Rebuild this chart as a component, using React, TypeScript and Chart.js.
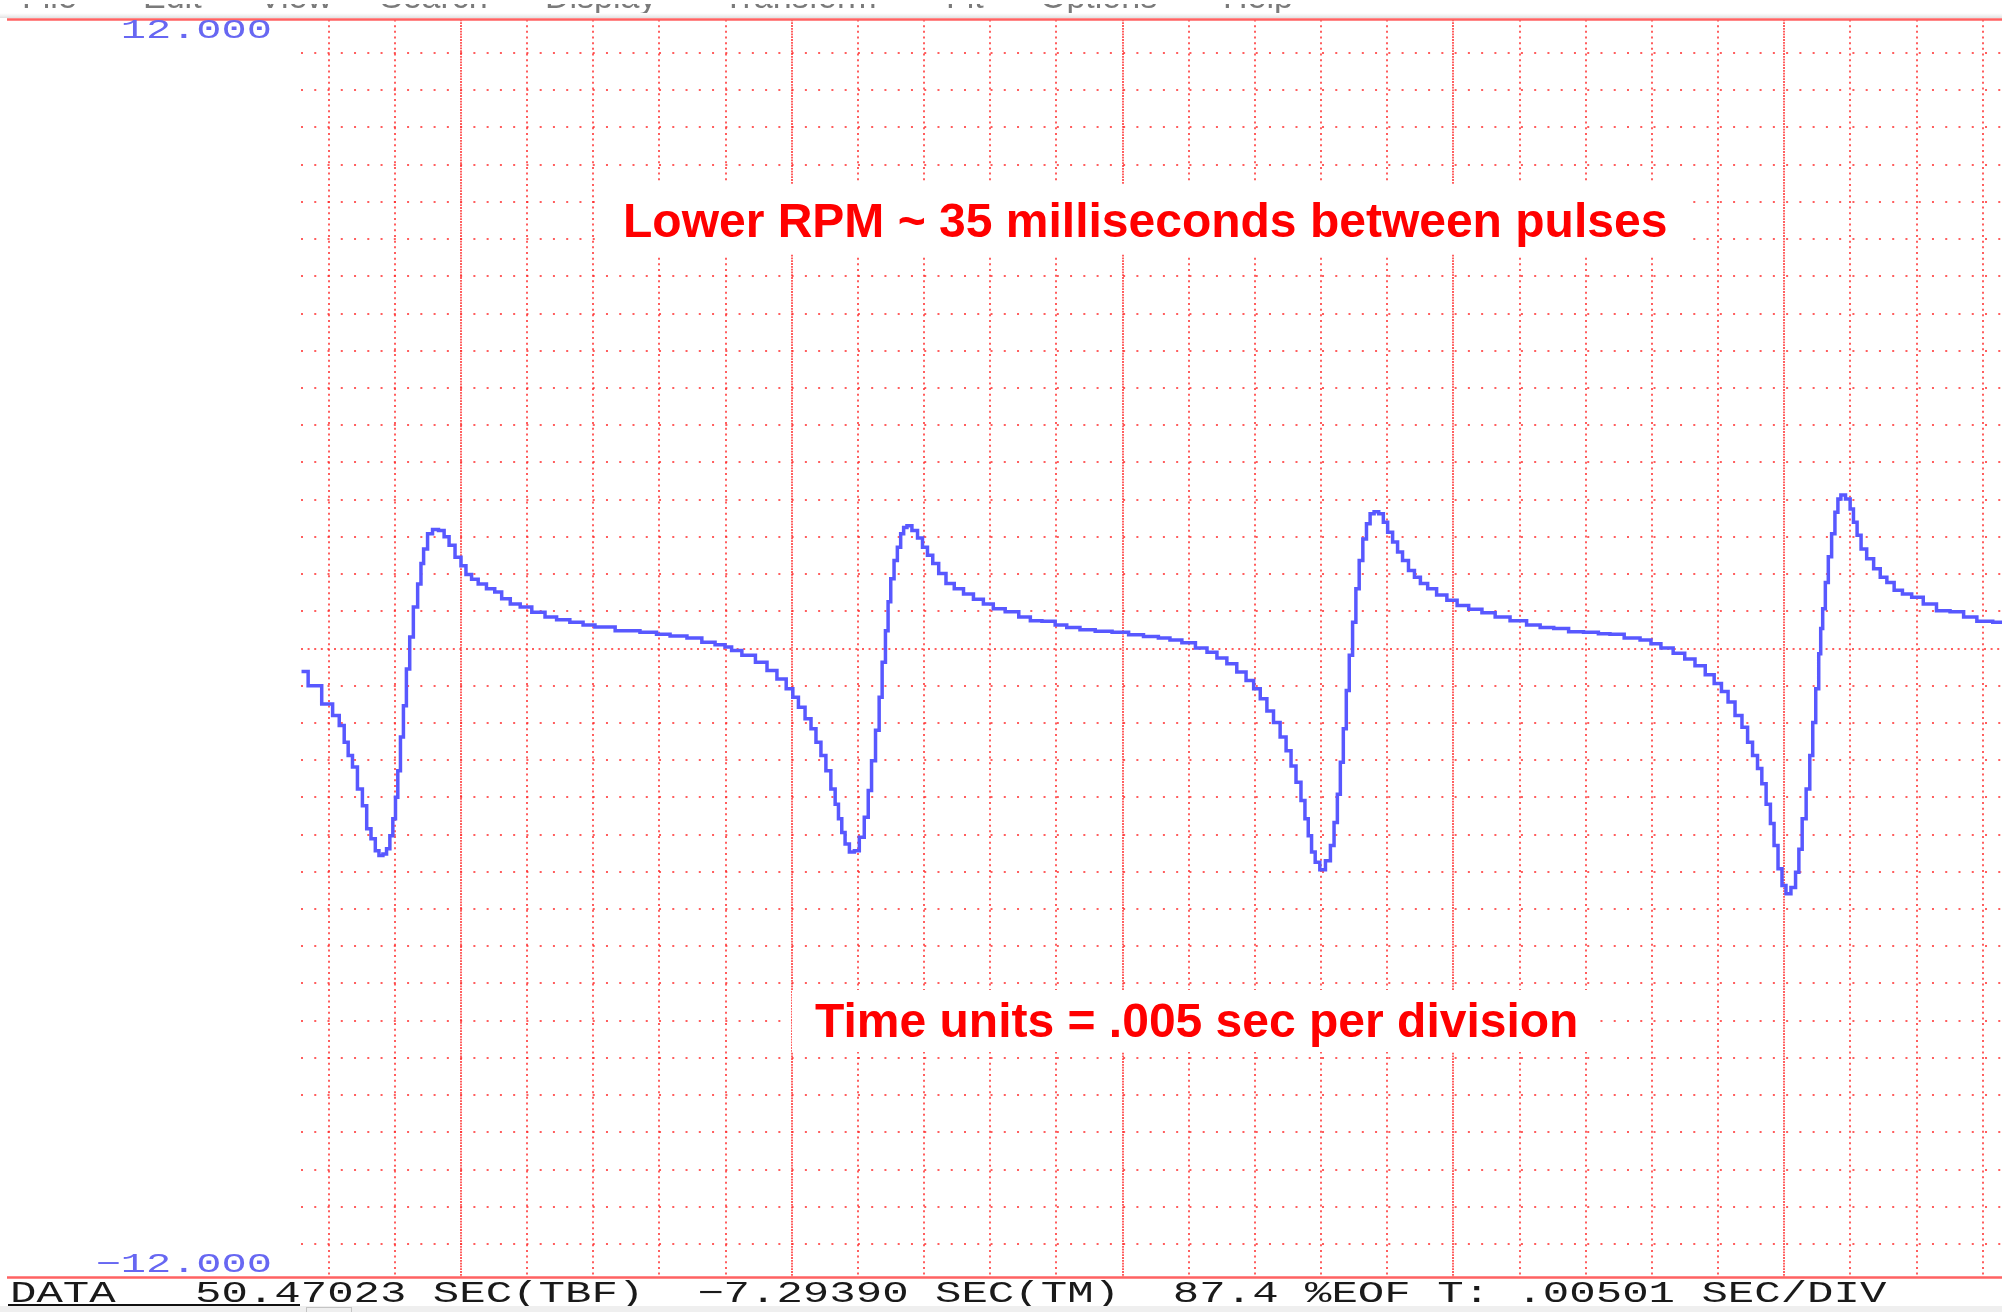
import React, { useEffect, useRef } from "react";
import { Chart, registerables } from "chart.js";

Chart.register(...registerables);

// ---------- data: time in milliseconds, signal in volts ----------
const PULSE1_MS = [2.59, 2.79, 3.0, 3.12, 3.2, 3.27, 3.32, 3.4, 3.47, 3.55, 3.6, 3.68, 3.73, 3.79, 3.85, 3.9, 3.95, 3.99, 4.03, 4.06, 4.11, 4.15, 4.2, 4.25, 4.31, 4.38, 4.41, 4.46, 4.53, 4.61, 4.71, 4.78, 4.86, 4.96, 5.04, 5.11, 5.21, 5.31, 5.46, 5.56, 5.67, 5.82, 5.97, 6.17, 6.37, 6.52, 6.77, 6.92, 7.13, 7.53, 7.88, 8.03, 8.29, 8.54, 8.74, 8.94, 9.04, 9.14];
const PULSE1_V = [-0.44, -0.71, -1.06, -1.28, -1.47, -1.79, -2.04, -2.26, -2.68, -3.0, -3.44, -3.63, -3.86, -3.95, -3.92, -3.82, -3.57, -3.25, -2.84, -2.33, -1.69, -1.09, -0.39, 0.22, 0.79, 1.23, 1.62, 1.9, 2.19, 2.27, 2.25, 2.13, 1.97, 1.74, 1.58, 1.41, 1.32, 1.23, 1.14, 1.08, 0.95, 0.85, 0.79, 0.69, 0.6, 0.55, 0.5, 0.45, 0.41, 0.34, 0.31, 0.27, 0.24, 0.2, 0.12, 0.07, 0.03, -0.04];

const PULSE2_MS = [9.35, 9.55, 9.7, 9.85, 9.98, 10.05, 10.15, 10.25, 10.33, 10.4, 10.48, 10.55, 10.63, 10.68, 10.73, 10.78, 10.83, 10.91, 10.98, 11.06, 11.13, 11.18, 11.23, 11.3, 11.34, 11.39, 11.44, 11.47, 11.52, 11.57, 11.62, 11.67, 11.71, 11.77, 11.86, 11.94, 12.01, 12.09, 12.17, 12.27, 12.39, 12.52, 12.67, 12.82, 12.97, 13.12, 13.33, 13.53, 13.68, 13.88, 14.08, 14.23, 14.48, 14.69, 14.99, 15.19, 15.44, 15.64, 15.79];
const PULSE2_V = [-0.13, -0.26, -0.42, -0.58, -0.77, -0.93, -1.12, -1.34, -1.53, -1.79, -2.04, -2.33, -2.68, -2.97, -3.25, -3.51, -3.73, -3.88, -3.86, -3.6, -3.22, -2.71, -2.14, -1.56, -0.93, -0.26, 0.34, 0.89, 1.33, 1.68, 1.93, 2.19, 2.31, 2.34, 2.25, 2.11, 1.93, 1.78, 1.62, 1.43, 1.24, 1.14, 1.04, 0.94, 0.85, 0.76, 0.7, 0.6, 0.53, 0.52, 0.45, 0.4, 0.36, 0.33, 0.31, 0.26, 0.23, 0.2, 0.16];

const PULSE3_MS = [16.0, 16.2, 16.35, 16.5, 16.65, 16.8, 16.93, 17.03, 17.13, 17.23, 17.33, 17.43, 17.51, 17.58, 17.66, 17.73, 17.78, 17.83, 17.88, 17.94, 18.02, 18.11, 18.17, 18.22, 18.27, 18.31, 18.36, 18.4, 18.45, 18.5, 18.55, 18.6, 18.66, 18.71, 18.77, 18.83, 18.91, 18.97, 19.04, 19.12, 19.19, 19.27, 19.37, 19.45, 19.55, 19.67, 19.82, 19.98, 20.13, 20.33, 20.53, 20.73, 20.98, 21.23, 21.39, 21.64, 21.84, 22.09, 22.29];
const PULSE3_V = [0.11, 0.01, -0.07, -0.18, -0.29, -0.45, -0.61, -0.77, -0.96, -1.19, -1.41, -1.69, -1.95, -2.24, -2.55, -2.9, -3.25, -3.57, -3.88, -4.08, -4.22, -4.05, -3.76, -3.32, -2.78, -2.17, -1.53, -0.8, -0.13, 0.5, 1.14, 1.68, 2.09, 2.38, 2.57, 2.61, 2.57, 2.41, 2.22, 2.03, 1.84, 1.68, 1.49, 1.36, 1.24, 1.14, 1.02, 0.92, 0.82, 0.75, 0.68, 0.6, 0.53, 0.45, 0.4, 0.38, 0.32, 0.31, 0.28];

const PULSE4_MS = [22.44, 22.72, 22.92, 23.05, 23.22, 23.42, 23.57, 23.73, 23.88, 24.0, 24.1, 24.2, 24.31, 24.41, 24.48, 24.56, 24.63, 24.69, 24.76, 24.82, 24.87, 24.94, 24.99, 25.06, 25.14, 25.2, 25.24, 25.3, 25.36, 25.41, 25.45, 25.5, 25.54, 25.56, 25.6, 25.64, 25.69, 25.74, 25.79, 25.83, 25.88, 25.97, 26.02, 26.07, 26.13, 26.19, 26.3, 26.4, 26.5, 26.6, 26.72, 26.85, 27.0, 27.2, 27.4, 27.61, 27.81, 28.01, 28.29];
const PULSE4_V = [0.27, 0.2, 0.16, 0.09, 0.01, -0.09, -0.2, -0.33, -0.5, -0.67, -0.82, -1.02, -1.28, -1.5, -1.79, -2.04, -2.29, -2.58, -2.97, -3.34, -3.76, -4.2, -4.52, -4.68, -4.56, -4.27, -3.83, -3.25, -2.68, -2.04, -1.41, -0.77, -0.1, 0.38, 0.76, 1.26, 1.75, 2.19, 2.6, 2.85, 2.93, 2.85, 2.66, 2.41, 2.16, 1.9, 1.71, 1.52, 1.36, 1.26, 1.11, 1.04, 0.98, 0.85, 0.72, 0.7, 0.6, 0.52, 0.5];

// ---------- axes ----------
const X_MIN_MS = 2.582;
const X_MAX_MS = 28.29;
const X_GRID_MS = [3, 4, 5, 6, 7, 8, 9, 10, 11, 12, 13, 14, 15, 16, 17, 18, 19, 20, 21, 22, 23, 24, 25, 26, 27, 28];
const X_MAJOR_EVERY_MS = 5;

const Y_MIN_V = -12;
const Y_MAX_V = 12;
const Y_GRID_STEP_V = 0.71;
const Y_GRID_INDEX = [-16, -15, -14, -13, -12, -11, -10, -9, -8, -7, -6, -5, -4, -3, -2, -1, 0, 1, 2, 3, 4, 5, 6, 7, 8, 9, 10, 11, 12, 13, 14, 15, 16];
const Y_EDGE_VALUES = [12, -12];
const Y_EDGE_LABELS = ["12.000", "\u221212.000"];

// ---------- texts ----------
const ANNOTATION_TEXTS = ["Lower RPM ~ 35 milliseconds between pulses", "Time units = .005 sec per division"];
const STATUS_TEXT = "DATA   50.47023 SEC(TBF)  \u22127.29390 SEC(TM)  87.4 %EOF T: .00501 SEC/DIV";
const MENU_WORDS = ["File", "Edit", "View", "Search", "Display", "Transform", "Fit", "Options", "Help"];

// ---------- layout (pixels) ----------
const W = 2002;
const H = 1312;
const PAD = { left: 301, top: 19.5, right: 0, bottom: 34.5 };
const ANNOTATION_POS = [
  { x: 623, y: 237, box: [596, 184, 1090, 70] },
  { x: 815, y: 1037, box: [792, 990, 806, 62] },
];
const MENU_X = [22, 143, 259, 380, 545, 723, 946, 1040, 1223];

const GRID_RED = "rgba(255, 40, 40, 0.75)";
const EDGE_RED = "#ff6262";
const TRACE_BLUE = "#5858ff";
const LABEL_BLUE = "#6767f2";

const buildPoints = () => {
  const ms = [...PULSE1_MS, ...PULSE2_MS, ...PULSE3_MS, ...PULSE4_MS];
  const v = [...PULSE1_V, ...PULSE2_V, ...PULSE3_V, ...PULSE4_V];
  return ms.map((t, i) => ({ x: t, y: v[i] }));
};

const decorPlugin = {
  id: "scopeDecor",
  beforeDatasetsDraw(chart: any) {
    const ctx: CanvasRenderingContext2D = chart.ctx;
    ctx.save();
    ANNOTATION_POS.forEach((p, i) => {
      const [bx, by, bw, bh] = p.box;
      ctx.fillStyle = "#ffffff";
      ctx.fillRect(bx, by, bw, bh);
      ctx.fillStyle = "#ff0000";
      ctx.font = 'bold 48px "Liberation Sans", Arial, sans-serif';
      ctx.textAlign = "left";
      ctx.textBaseline = "alphabetic";
      ctx.fillText(ANNOTATION_TEXTS[i], p.x, p.y);
    });
    ctx.restore();
  },
  afterDraw(chart: any) {
    const ctx: CanvasRenderingContext2D = chart.ctx;
    const yScale = chart.scales.y;
    const area = chart.chartArea;
    ctx.save();

    // menu bar remnants (cut off at the top)
    ctx.save();
    ctx.beginPath();
    ctx.rect(0, 4, W, 9);
    ctx.clip();
    ctx.fillStyle = "#7a7a7a";
    ctx.font = '34px "Liberation Sans", Arial, sans-serif';
    ctx.textBaseline = "alphabetic";
    MENU_WORDS.forEach((w, i) => ctx.fillText(w, MENU_X[i], 7.5));
    ctx.restore();
    const g = ctx.createLinearGradient(0, 13, 0, 19);
    g.addColorStop(0, "rgba(230,230,230,0)");
    g.addColorStop(1, "rgba(215,215,215,1)");
    ctx.fillStyle = g;
    ctx.fillRect(0, 13, W, 5);

    // red frame lines at +/-12
    ctx.strokeStyle = EDGE_RED;
    ctx.lineWidth = 2.5;
    Y_EDGE_VALUES.forEach((v) => {
      const py = yScale.getPixelForValue(v);
      ctx.beginPath();
      ctx.moveTo(7, py);
      ctx.lineTo(W, py);
      ctx.stroke();
    });

    // y range labels
    ctx.fillStyle = LABEL_BLUE;
    ctx.font = '27px "Liberation Mono", "DejaVu Sans Mono", monospace';
    ctx.textAlign = "right";
    ctx.textBaseline = "middle";
    Y_EDGE_VALUES.forEach((v, i) => {
      const py = yScale.getPixelForValue(v) + (v > 0 ? 11.5 : -12.5);
      ctx.save();
      ctx.translate(area.left - 29, py);
      ctx.scale(1.556, 1);
      ctx.fillText(Y_EDGE_LABELS[i], 0, 0);
      ctx.restore();
    });

    // status line
    ctx.fillStyle = "#1a1a1a";
    ctx.textAlign = "left";
    ctx.textBaseline = "alphabetic";
    ctx.font = '30px "Liberation Mono", "DejaVu Sans Mono", monospace';
    ctx.save();
    ctx.translate(10, 1302);
    ctx.scale(1.468, 1);
    ctx.fillText(STATUS_TEXT, 0, 0);
    ctx.restore();

    // bottom strip
    ctx.fillStyle = "#efefef";
    ctx.fillRect(0, 1306, W, 6);
    ctx.strokeStyle = "#111111";
    ctx.lineWidth = 2;
    ctx.beginPath();
    ctx.moveTo(8, 1305);
    ctx.lineTo(300, 1305);
    ctx.stroke();
    ctx.strokeStyle = "#c4c4c4";
    ctx.lineWidth = 1;
    ctx.strokeRect(306.5, 1307.5, 45, 6);

    ctx.restore();
  },
};

export default function App() {
  const ref = useRef<HTMLCanvasElement>(null);

  useEffect(() => {
    const canvas = ref.current;
    if (!canvas) return;
    const chart = new Chart(canvas, {
      type: "line",
      data: {
        datasets: [
          {
            data: buildPoints(),
            borderColor: TRACE_BLUE,
            borderWidth: 3.5,
            pointRadius: 0,
            tension: 0,
            stepped: "middle",
            fill: false,
          },
        ],
      },
      options: {
        responsive: false,
        devicePixelRatio: 1,
        animation: false,
        events: [],
        layout: { padding: PAD },
        plugins: { legend: { display: false }, tooltip: { enabled: false }, title: { display: false } },
        scales: {
          x: {
            type: "linear",
            min: X_MIN_MS,
            max: X_MAX_MS,
            position: "bottom",
            ticks: { display: false },
            grid: { color: GRID_RED, lineWidth: 2, drawTicks: false },
            border: {
              display: false,
              dash: (c: any) =>
                c.tick ? (c.tick.value % X_MAJOR_EVERY_MS === 0 ? [1.8, 1.0] : [2, 3.67]) : [],
            },
            afterBuildTicks: (s: any) => {
              s.ticks = X_GRID_MS.map((value) => ({ value }));
            },
          },
          y: {
            type: "linear",
            min: Y_MIN_V,
            max: Y_MAX_V,
            position: "left",
            ticks: { display: false },
            grid: { color: GRID_RED, lineWidth: 2, drawTicks: false },
            border: {
              display: false,
              dash: (c: any) => (c.tick ? (Math.abs(c.tick.value) < 1e-6 ? [2, 4.6] : [2, 11.26]) : []),
            },
            afterBuildTicks: (s: any) => {
              s.ticks = Y_GRID_INDEX.map((k) => ({ value: k * Y_GRID_STEP_V }));
            },
          },
        },
      },
      plugins: [decorPlugin],
    } as any);
    return () => chart.destroy();
  }, []);

  return (
    <div style={{ position: "fixed", left: 0, top: 0, width: W, height: H, background: "#ffffff", overflow: "hidden" }}>
      <canvas ref={ref} width={W} height={H} style={{ display: "block", width: W, height: H }} />
    </div>
  );
}
